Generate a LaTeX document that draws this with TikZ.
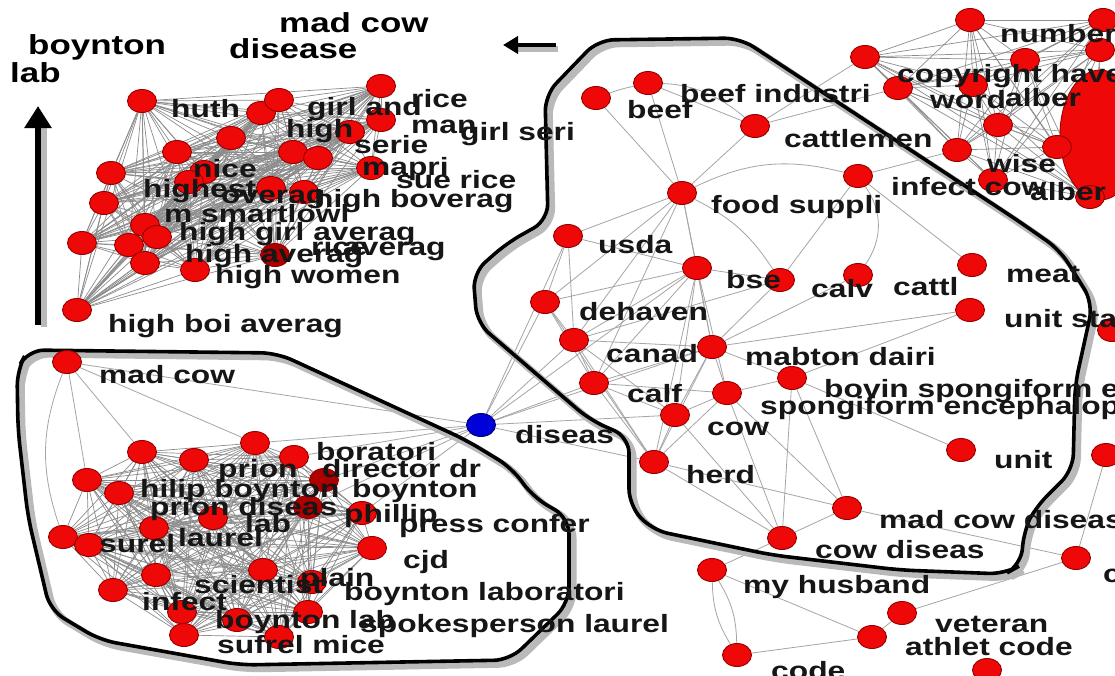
\documentclass[tikz,border=0pt]{standalone}
\usepackage{fontspec}
\newfontfamily\lblfont[FakeStretch=1.27]{Liberation Sans}
\usetikzlibrary{shapes.geometric,arrows.meta}
\definecolor{nodered}{RGB}{238,8,8}
\definecolor{noderim}{RGB}{150,0,0}
\definecolor{darkred}{RGB}{175,0,0}
\definecolor{edgegray}{RGB}{165,165,165}
\definecolor{densegray}{RGB}{140,140,140}
\definecolor{txt}{RGB}{22,22,22}
\definecolor{shade}{RGB}{185,185,185}
\pgfdeclarelayer{edgelayer}
\pgfdeclarelayer{hulllayer}
\pgfsetlayers{edgelayer,hulllayer,main}
\tikzset{
  nd/.style={ellipse, fill=nodered, draw=noderim, line width=0.9pt, minimum width=29pt, minimum height=23pt, inner sep=0pt},
  dnd/.style={nd, fill=darkred},
  bnd/.style={nd, fill=blue!85!black, draw=blue!45!black},
  lbl/.style={anchor=base west, inner sep=0pt, text=txt, font=\lblfont\bfseries\fontsize{25}{25}\selectfont},
  ttl/.style={anchor=base west, inner sep=0pt, text=black, font=\lblfont\bfseries\fontsize{27.5}{28}\selectfont},
  ed/.style={draw=edgegray, line width=0.8pt},
  ced/.style={draw=densegray, line width=0.7pt},
  hull/.style={draw=black, line width=3.6pt, rounded corners=16pt},
  hullsh/.style={draw=shade, line width=7pt, rounded corners=16pt},
  varr/.style={draw=black, line width=6.5pt, -{Triangle[length=22pt,width=26pt]}},
  harr/.style={draw=black, line width=4pt, -{Triangle[length=15pt,width=17pt]}},
  arrsh/.style={draw=shade, line width=6pt},
}
\begin{document}
\begin{tikzpicture}[x=1pt,y=-1pt]
\useasboundingbox (0,0) rectangle (1115,675);
\clip (0,0) rectangle (1115,675);

% ---------- nodes: top-left cluster ----------
\foreach \n/\x/\y in {a1/142/101, a2/261/113, a3/279/100, a4/381/86, a5/381/120, a6/350/132,
  a7/231/138, a8/177/152, a9/293/152, a10/318/158, a11/204/172, a12/111/173, a13/371/168,
  a14/271/188, a15/304/192, a16/189/182, a17/104/203, a18/145/225, a19/157/237, a20/82/243,
  a21/129/245, a22/145/263, a23/195/270, a25/77/310}
  \node[nd] (\n) at (\x,\y) {};
\node[dnd] (a24) at (275,255) {};

% ---------- nodes: lower-left cluster ----------
\node[nd] (b0) at (67,362) {};
\foreach \n/\x/\y in {b1/142/452, b2/194/460, b3/255/443, b4/294/457, b5/87/480, b6/119/493,
  b9/213/518, b10/154/528, b11/362/513, b12/372/548, b13/63/537, b14/89/545,
  b15/156/575, b16/113/590, b17/263/570, b18/312/582, b19/182/612, b20/184/635, b21/237/620,
  b22/308/612, b23/279/637}
  \node[nd] (\n) at (\x,\y) {};
\node[dnd] (b7) at (324,480) {};
\node[dnd] (b8) at (308,507) {};

% ---------- nodes: centre cluster ----------
\foreach \n/\x/\y in {c1/596/98, c2/648/83, c3/755/126, c4/682/193, c5/858/176, c6/568/236,
  c7/697/268, c8/780/280, c9/858/275, c10/972/265, c11/970/310, c12/545/302, c13/574/340,
  c14/712/347, c15/594/383, c16/792/378, c17/727/393, c18/675/415, c19/654/462, c20/961/450,
  c21/847/508, c22/782/538}
  \node[nd] (\n) at (\x,\y) {};
\node[bnd] (bl) at (481,425) {};

% ---------- nodes: lower and right ----------
\foreach \n/\x/\y in {d1/712/570, d2/737/655, d3/902/613, d4/872/637, d5/987/670, d6/1076/558,
  d7/1106/455, d8/1112/330}
  \node[nd] (\n) at (\x,\y) {};
\node[ellipse, fill=nodered, draw=noderim, line width=0.9pt, minimum width=80pt, minimum height=130pt] (blob) at (1100,135) {};
\foreach \n/\x/\y in {r1/865/57, r2/970/20, r3/898/88, r4/973/85, r5/1025/60, r6/998/125,
  r7/957/150, r8/993/180, r9/1057/147, r10/1090/197, r11/1103/20, r12/1100/50}
  \node[nd] (\n) at (\x,\y) {};

% ---------- edges ----------
\begin{pgfonlayer}{edgelayer}
\fill[white] (0,0) rectangle (1115,675);
\foreach \i [evaluate=\i as \k using int(\i+1)] in {1,...,24}
  \foreach \j in {\k,...,25}
    \draw[ced] (a\i) -- (a\j);
\foreach \i [evaluate=\i as \k using int(\i+1)] in {1,...,22}
  \foreach \j in {\k,...,23}
    \draw[ced] (b\i) -- (b\j);
\foreach \i [evaluate=\i as \k using int(\i+1)] in {1,...,11}
  \foreach \j in {\k,...,12}
    \draw[ced] (r\i) -- (r\j);
\foreach \a/\b in {b0/b3, b0/b5, b0/b1, b0/bl,
  bl/c6, bl/c12, bl/c13, bl/c15, bl/c7, bl/c14, bl/c19, bl/c18, bl/b3, bl/b4, bl/b7, bl/b11, bl/b8,
  c4/c1, c4/c2, c4/c3, c4/c6, c4/c7, c4/c12, c4/c13, c4/c15, c4/c14, c2/c3,
  c5/c8, c5/c10, c7/c12, c7/c13, c7/c15, c7/c14, c7/c18, c7/c6, c7/c8, c7/c17, c7/c19,
  c12/c13, c12/c15, c12/c19, c6/c12, c6/c13, c13/c14, c13/c15, c13/c18, c13/c19,
  c14/c15, c14/c17, c14/c16, c14/c18, c14/c19, c14/c9, c14/c11, c8/c14, c8/c13,
  c15/c18, c15/c19, c15/c17, c16/c17, c16/c20, c16/c21, c16/c22,
  c17/c18, c17/c19, c17/c21, c17/c22, c18/c19, c18/c22, c19/c22, c19/c21, c21/c22, c11/c16,
  c3/r3, c5/r7, c22/d1, d1/d4, d2/d4, d3/d4, d3/d6, d6/d7, d6/c21, r1/c3, blob/r9, blob/r10, blob/r6}
  \draw[ed] (\a) -- (\b);
\draw[ed] (c1) to[bend left=30] (c3);
\draw[ed] (c4) to[bend left=20] (c5);
\draw[ed] (c4) to[bend left=15] (c8);
\draw[ed] (c5) to[bend left=35] (c9);
\draw[ed] (d1) to[bend right=15] (d2);
\draw[ed] (d1) to[bend left=15] (d2);
\draw[ed] (b0) to[bend right=20] (b13);
\end{pgfonlayer}

% ---------- hulls and arrows ----------
\begin{pgfonlayer}{hulllayer}
\begin{scope}[shift={(4,4)}]
\draw[hullsh] (28,350) -- (277,353) -- (466,440) -- (512,468) -- (533,497) -- (569,518) -- (569,603)
  -- (510,660) -- (240,665) -- (100,640) -- (50,610) -- (28,517) -- (18,430) -- (17,370) -- cycle;
\draw[hullsh] (598,40) -- (740,38) -- (1017,220) -- (1060,250) -- (1093,303) -- (1075,385) -- (1073,470)
  -- (1035,508) -- (1024,530) -- (1021,565) -- (1005,574) -- (900,570) -- (772,555) -- (652,530)
  -- (629,505) -- (629,437) -- (590,420) -- (477,323) -- (473,273) -- (507,243) -- (548,220)
  -- (545,95) -- cycle;
\end{scope}
\draw[hull] (28,350) -- (277,353) -- (466,440) -- (512,468) -- (533,497) -- (569,518) -- (569,603)
  -- (510,660) -- (240,665) -- (100,640) -- (50,610) -- (28,517) -- (18,430) -- (17,370) -- cycle;
\draw[hull] (598,40) -- (740,38) -- (1017,220) -- (1060,250) -- (1093,303) -- (1075,385) -- (1073,470)
  -- (1035,508) -- (1024,530) -- (1021,565) -- (1005,574) -- (900,570) -- (772,555) -- (652,530)
  -- (629,505) -- (629,437) -- (590,420) -- (477,323) -- (473,273) -- (507,243) -- (548,220)
  -- (545,95) -- cycle;
\coordinate (va) at (38,325);
\coordinate (vb) at (38,106);
\coordinate (ha) at (556,45);
\coordinate (hb) at (503,45);
\draw[arrsh] ([shift={(6,2)}]va) -- ([shift={(6,20)}]vb);
\draw[varr] (va) -- (vb);
\draw[arrsh] ([shift={(2,4)}]ha) -- ([shift={(14,4)}]hb);
\draw[harr] (ha) -- (hb);
\end{pgfonlayer}

% ---------- titles ----------
\foreach \t/\x/\y in {boynton/28/54, lab/10/82, mad cow/279/32, disease/229/58}
  \node[ttl] at (\x,\y) {\t};

% ---------- labels ----------
\foreach \t/\x/\y in {
  huth/171/117, girl and/307/115, rice/411/107, high/286/137, man/411/133, girl seri/460/140,
  serie/354/153, nice/193/177, mapri/362/175, sue rice/396/188, highest/143/197, overag/221/203,
  high boverag/314/207, m smartlowl/164/222, high girl averag/179/240, rice/311/255, averag/343/255,
  high averag/185/262, high women/215/283, high boi averag/108/332,
  mad cow/99/383, boratori/316/460, prion/218/477, director dr/322/477, hilip boynton/140/497,
  boynton/352/497, prion diseas/150/515, lab/245/532, phillip/344/522, press confer/399/532,
  surel/99/552, laurel/178/546, cjd/403/568, scientist/194/593, plain/300/586,
  boynton laboratori/344/600, infect/142/610, boynton lab/215/628, spokesperson laurel/360/632,
  sufrel mice/217/653,
  beef/627/118, beef industri/680/102, cattlemen/784/147, food suppli/711/213, infect cow/891/195,
  usda/598/253, bse/726/288, calv/811/297, cattl/893/295, meat/1006/282, unit states/1004/327,
  dehaven/579/320, canad/606/362, mabton dairi/745/365, calf/627/402,
  bovin spongiform encephalopathi/824/397, spongiform encephalopathi/760/414, cow/707/435,
  diseas/515/443, herd/686/483, unit/994/468, mad cow diseas/879/528, cow diseas/815/558,
  my husband/743/593, veteran/935/632, athlet code/905/655, code/771/679, c/1103/582,
  number/1000/42, copyright have/897/82, word/930/108, alber/1005/106, wise/987/172, alber/1030/200}
  \node[lbl] at (\x,\y) {\t};
\end{tikzpicture}
\end{document}
